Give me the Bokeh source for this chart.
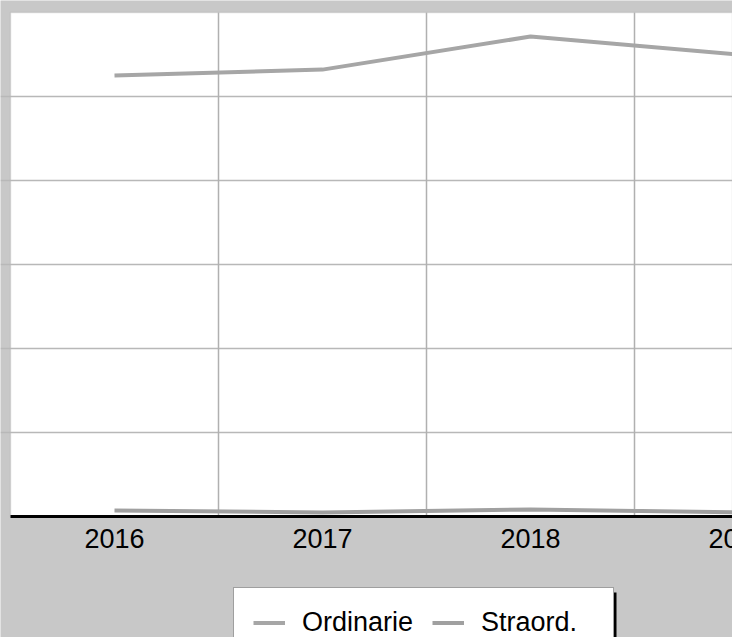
from bokeh.plotting import figure
from bokeh.models import Range1d, FixedTicker, Legend, LegendItem, BoxAnnotation
from bokeh.core.properties import value
from bokeh.embed import file_html
from bokeh.resources import INLINE

years = [2016, 2017, 2018, 2019]
year_labels = ["2016", "2017", "2018", "2019"]
ordinarie = [262.5, 266.0, 285.7, 275.0]
straord = [3.6, 2.4, 4.2, 2.4]
y_ticks = [0, 50, 100, 150, 200, 250, 300]
series_names = ["Ordinarie", "Straord."]

BG = "#c8c8c8"
LINE = "#a6a6a6"
FONT = "Liberation Sans"

W, H = 732, 637
PX_X = 208.0          # pixels per year
PX_Y = 504.0 / 300.0  # pixels per unit
LEFT, TOP, AXIS_Y = 10, 12, 516

x0 = years[0] - 0.5 - LEFT / PX_X
y_top = y_ticks[-1] + TOP / PX_Y
y_bot = y_ticks[0] - (H - AXIS_Y) / PX_Y

p = figure(width=W, height=H, output_backend="svg", toolbar_location=None,
           x_range=Range1d(x0, x0 + W / PX_X), y_range=Range1d(y_bot, y_top),
           min_border=0)
p.xaxis.visible = False
p.yaxis.visible = False
p.background_fill_color = BG
p.border_fill_color = BG
p.outline_line_color = None

# white plotting area
area = BoxAnnotation(left=years[0] - 0.5, bottom=y_ticks[0], top=y_ticks[-1],
                     fill_color="white", fill_alpha=1, line_color="#a0a0a0",
                     line_width=1.5, level="image")
p.add_layout(area)

# grid
p.xgrid.visible = False
p.ygrid.ticker = FixedTicker(ticks=y_ticks[1:-1])
p.ygrid.grid_line_color = "#b8b8b8"
p.ygrid.grid_line_width = 1.5
bounds = [y - 0.5 for y in years[1:]]
p.segment(x0=bounds, y0=[y_ticks[0]] * len(bounds), x1=bounds,
          y1=[y_ticks[-1]] * len(bounds), line_color="#b0b0b0", line_width=1.5)

r1 = p.line(years, ordinarie, line_color=LINE, line_width=4)
r2 = p.line(years, straord, line_color="#a0a0a0", line_width=4)

# x axis line and category labels
p.segment(x0=[years[0] - 0.5], y0=[y_ticks[0]], x1=[years[-1] + 0.5], y1=[y_ticks[0]],
          line_color="black", line_width=3)
p.text(x=years, y=[y_ticks[0] - 22 / PX_Y] * len(years), text=year_labels,
       text_font=value(FONT), text_font_size="27px", text_color="black",
       text_align="center", text_baseline="middle")

# legend shadow (screen units measured from the bottom of the canvas)
shadow = BoxAnnotation(left=236, right=616, top=H - 592, bottom=-10,
                       left_units="screen", right_units="screen",
                       top_units="screen", bottom_units="screen",
                       fill_color="black", fill_alpha=1, line_color=None)
p.add_layout(shadow)

legend = Legend(items=[LegendItem(label=series_names[0], renderers=[r1]),
                       LegendItem(label=series_names[1], renderers=[r2])],
                orientation="horizontal", location=(233, -21), margin=0)
legend.label_text_font = FONT
legend.label_text_font_size = "27px"
legend.label_text_color = "black"
legend.label_height = 25
legend.label_width = 113
legend.label_standoff = 17
legend.glyph_width = 32
legend.glyph_height = 25
legend.padding = 19
legend.spacing = 17
legend.border_line_color = "#404040"
legend.border_line_width = 1
legend.background_fill_color = "white"
legend.background_fill_alpha = 1
p.add_layout(legend, "center")

open("out.html", "w").write(file_html(p, INLINE))
